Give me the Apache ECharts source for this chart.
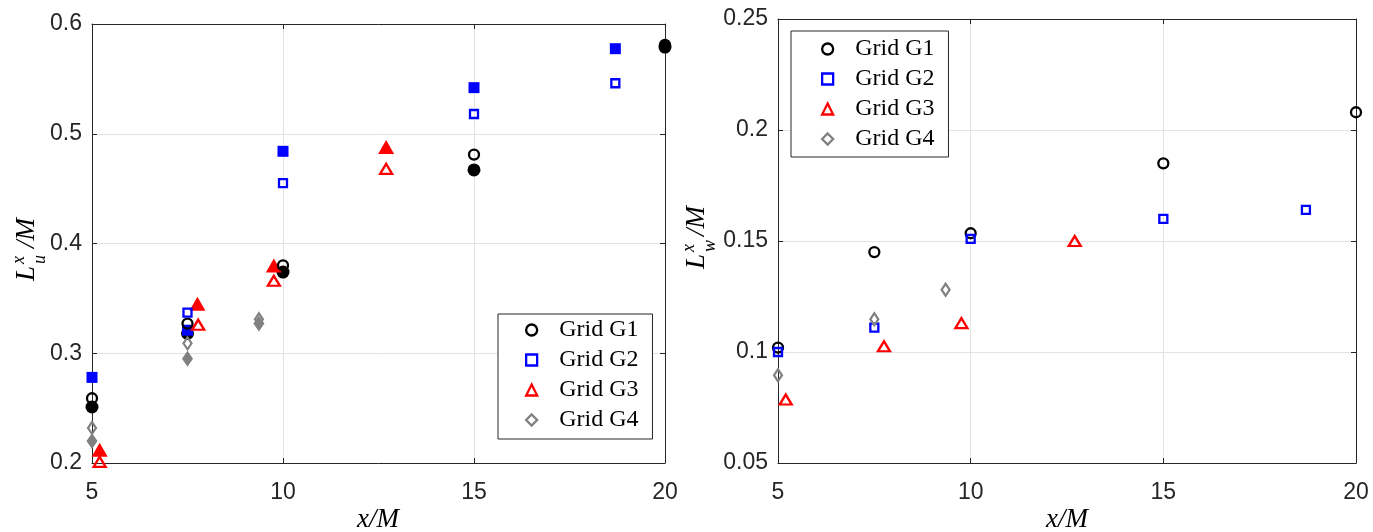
<!DOCTYPE html>
<html>
<head>
<meta charset="utf-8">
<script src="https://cdn.jsdelivr.net/npm/echarts@6/dist/echarts.min.js"></script>
<style>
html,body{margin:0;padding:0;background:#fff;}
#chart{width:1373px;height:532px;}
</style>
</head>
<body>
<div id="chart"></div>
<script>
// ---------- data ----------
const xTicks = [5, 10, 15, 20];
const legendNames = ['Grid G1', 'Grid G2', 'Grid G3', 'Grid G4'];

// Left panel: L_u^x / M  (open = first run, filled = second run)
const luG1OpenX = [5, 7.5, 10, 15, 20];
const luG1OpenY = [0.259, 0.327, 0.380, 0.481, 0.581];
const luG1FillX = [5, 7.5, 10, 15, 20];
const luG1FillY = [0.251, 0.318, 0.374, 0.467, 0.579];
const luG2OpenX = [7.5, 10, 15, 18.7];
const luG2OpenY = [0.337, 0.455, 0.518, 0.546];
const luG2FillX = [5, 7.5, 10, 15, 18.7];
const luG2FillY = [0.278, 0.321, 0.484, 0.542, 0.5775];
const luG3OpenX = [5.2, 7.78, 9.76, 12.7];
const luG3OpenY = [0.201, 0.326, 0.366, 0.468];
const luG3FillX = [5.2, 7.76, 9.76, 12.7];
const luG3FillY = [0.212, 0.345, 0.380, 0.488];
const luG4OpenX = [5, 7.5, 9.37];
const luG4OpenY = [0.232, 0.309, 0.331];
const luG4FillX = [5, 7.5, 9.37];
const luG4FillY = [0.220, 0.295, 0.327];

// Right panel: L_w^x / M
const lwG1X = [5, 7.5, 10, 15, 20];
const lwG1Y = [0.102, 0.145, 0.1535, 0.185, 0.208];
const lwG2X = [5, 7.5, 10, 15, 18.7];
const lwG2Y = [0.100, 0.111, 0.151, 0.160, 0.164];
const lwG3X = [5.2, 7.75, 9.76, 12.7];
const lwG3Y = [0.0786, 0.1026, 0.113, 0.150];
const lwG4X = [5, 7.5, 9.35];
const lwG4Y = [0.0895, 0.1147, 0.128];

// ---------- styling ----------
const AX = '#262626';
const GRIDC = '#e3e3e3';
const TICKFONT = 'Liberation Sans';
const SERIF = 'Liberation Serif';
const zip = (a, b) => a.map((v, i) => [v, b[i]]);

const sty = {
  g1: {color: '#000000', symbol: 'circle', open: 10, fill: 13},
  g2: {color: '#0000ff', symbol: 'rect', open: 8, fill: 11},
  g3: {color: '#ff0000', symbol: 'triangle', open: [12, 10], fill: [16, 14]},
  g4: {color: '#808080', symbol: 'diamond', open: [8, 12], fill: [11, 16]}
};

function openSeries(name, s, x, y, xi, yi) {
  return {
    name: name, type: 'scatter', xAxisIndex: xi, yAxisIndex: yi,
    symbol: s.symbol, symbolSize: s.open, symbolKeepAspect: true,
    itemStyle: {color: 'rgba(255,255,255,0)', borderColor: s.color, borderWidth: 2.3, opacity: 1},
    emphasis: {disabled: true}, z: 3,
    data: zip(x, y)
  };
}
function fillSeries(name, s, x, y, xi, yi) {
  return {
    name: name, type: 'scatter', xAxisIndex: xi, yAxisIndex: yi,
    symbol: s.symbol, symbolSize: s.fill,
    itemStyle: {color: s.color, borderWidth: 0, opacity: 1},
    emphasis: {disabled: true}, z: 2,
    data: zip(x, y)
  };
}

function xAxisFor(grid, top) {
  return {
    type: 'value', gridIndex: grid, min: 5, max: 20, interval: 5,
    position: top ? 'top' : 'bottom',
    axisLine: {show: true, onZero: false, lineStyle: {color: AX, width: 1}},
    axisTick: {show: true, inside: true, length: 5, lineStyle: {color: AX}},
    axisLabel: {show: !top, color: AX, fontFamily: TICKFONT, fontSize: 23, margin: 18,
      formatter: v => xTicks.indexOf(v) >= 0 ? String(v) : ''},
    splitLine: {show: !top, lineStyle: {color: GRIDC, width: 1}}
  };
}
function yAxisFor(grid, right, min, max, step) {
  return {
    type: 'value', gridIndex: grid, min: min, max: max, interval: step,
    position: right ? 'right' : 'left',
    axisLine: {show: true, onZero: false, lineStyle: {color: AX, width: 1}},
    axisTick: {show: true, inside: true, length: 5, lineStyle: {color: AX}},
    axisLabel: {show: !right, color: AX, fontFamily: TICKFONT, fontSize: 23, margin: 10,
      formatter: v => String(parseFloat(v.toFixed(4)))},
    splitLine: {show: !right, lineStyle: {color: GRIDC, width: 1}}
  };
}

function legendFor(left, top, padTop, padLeft, padRight, padBottom) {
  return {
    orient: 'vertical', left: left, top: top,
    data: legendNames,
    itemWidth: 11, itemHeight: 11, itemGap: 0,
    padding: [padTop, padRight, padBottom, padLeft],
    backgroundColor: '#ffffff', borderColor: AX, borderWidth: 1, borderRadius: 0,
    selectedMode: false,
    itemStyle: {borderWidth: 2.3},
    textStyle: {fontFamily: SERIF, fontSize: 24, color: '#000', lineHeight: 30, padding: [0, 0, 0, 17]}
  };
}

function yTitle(cx, baseX, sub) {
  const f = 'italic 27px "' + SERIF + '"';
  const fs = 'italic 18px "' + SERIF + '"';
  return {
    type: 'group', x: baseX, y: cx, rotation: Math.PI / 2, silent: true,
    children: [
      {type: 'text', x: -35, y: -9, style: {text: 'L', font: f, fill: '#000', align: 'left', verticalAlign: 'middle'}},
      {type: 'text', x: -18, y: -17, style: {text: 'x', font: fs, fill: '#000', align: 'left', verticalAlign: 'middle'}},
      {type: 'text', x: -18, y: 4, style: {text: sub, font: fs, fill: '#000', align: 'left', verticalAlign: 'middle'}},
      {type: 'text', x: -2, y: -9, style: {text: '/M', font: f, fill: '#000', align: 'left', verticalAlign: 'middle'}}
    ]
  };
}
function xTitle(cx) {
  return {type: 'text', x: cx, y: 520, silent: true,
    style: {text: 'x/M', font: 'italic 27px "' + SERIF + '"', fill: '#000', align: 'center', verticalAlign: 'middle'}};
}

const chart = echarts.init(document.getElementById('chart'), null, {renderer: 'canvas'});
chart.setOption({
  animation: false,
  backgroundColor: '#ffffff',
  grid: [
    {left: 92, top: 24, width: 573, height: 439, containLabel: false, outerBoundsMode: 'none'},
    {left: 778, top: 19, width: 578, height: 444, containLabel: false, outerBoundsMode: 'none'}
  ],
  xAxis: [xAxisFor(0, false), xAxisFor(0, true), xAxisFor(1, false), xAxisFor(1, true)],
  yAxis: [
    yAxisFor(0, false, 0.2, 0.6, 0.1), yAxisFor(0, true, 0.2, 0.6, 0.1),
    yAxisFor(1, false, 0.05, 0.25, 0.05), yAxisFor(1, true, 0.05, 0.25, 0.05)
  ],
  legend: [
    legendFor(498, 314, 1, 27, 14, 4),
    legendFor(791, 31, 3, 30, 14, 3)
  ],
  series: [
    fillSeries('G1 filled', sty.g1, luG1FillX, luG1FillY, 0, 0),
    fillSeries('G2 filled', sty.g2, luG2FillX, luG2FillY, 0, 0),
    fillSeries('G3 filled', sty.g3, luG3FillX, luG3FillY, 0, 0),
    fillSeries('G4 filled', sty.g4, luG4FillX, luG4FillY, 0, 0),
    openSeries('Grid G1', sty.g1, luG1OpenX, luG1OpenY, 0, 0),
    openSeries('Grid G2', sty.g2, luG2OpenX, luG2OpenY, 0, 0),
    openSeries('Grid G3', sty.g3, luG3OpenX, luG3OpenY, 0, 0),
    openSeries('Grid G4', sty.g4, luG4OpenX, luG4OpenY, 0, 0),
    openSeries('Grid G1', sty.g1, lwG1X, lwG1Y, 2, 2),
    openSeries('Grid G2', sty.g2, lwG2X, lwG2Y, 2, 2),
    openSeries('Grid G3', sty.g3, lwG3X, lwG3Y, 2, 2),
    openSeries('Grid G4', sty.g4, lwG4X, lwG4Y, 2, 2)
  ],
  graphic: [
    yTitle(246, 36, 'u'),
    yTitle(234, 706, 'w'),
    xTitle(378),
    xTitle(1067)
  ]
});
</script>
</body>
</html>
